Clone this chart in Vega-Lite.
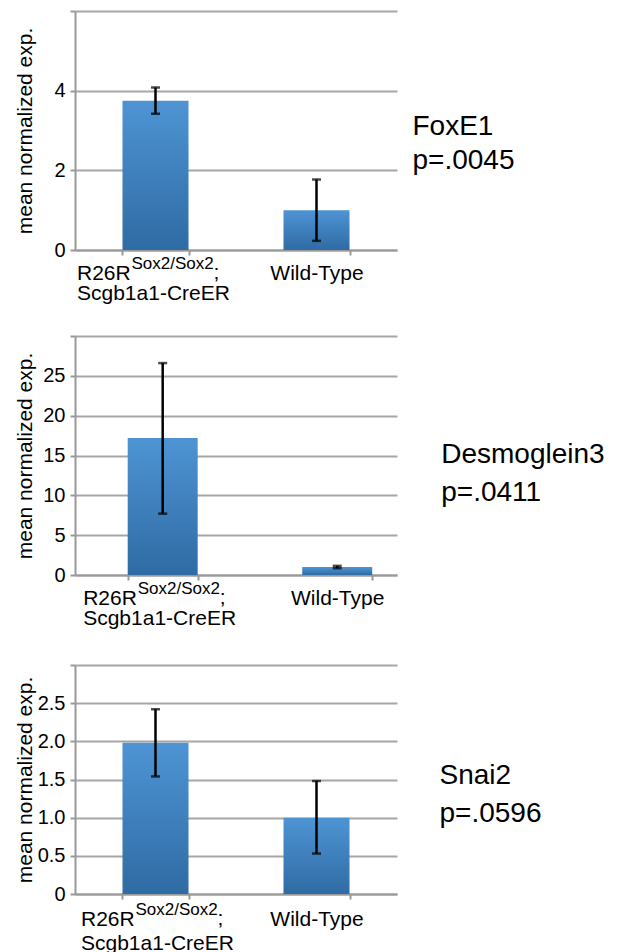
{
  "$schema": "https://vega.github.io/schema/vega-lite/v6.json",
  "padding": {"left": 13, "top": 10, "right": 0, "bottom": 0},
  "background": "white",
  "config": {
    "view": {"stroke": null},
    "font": "Liberation Sans",
    "axis": {
      "domainColor": "#999999", "domainWidth": 2,
      "gridColor": "#a6a6a6", "gridWidth": 2,
      "tickColor": "#999999", "tickWidth": 2, "tickSize": 5,
      "labelColor": "black", "titleColor": "black",
      "labelFont": "Liberation Sans", "titleFont": "Liberation Sans",
      "titleFontWeight": "normal"
    }
  },
  "datasets": {
    "bars": [
      {"panel": "FoxE1", "group": "R26R Sox2/Sox2; Scgb1a1-CreER", "mean": 3.75, "lo": 3.42, "hi": 4.08, "sup": "Sox2/Sox2"},
      {"panel": "FoxE1", "group": "Wild-Type", "mean": 1.0, "lo": 0.23, "hi": 1.77, "sup": ""},
      {"panel": "Desmoglein3", "group": "R26R Sox2/Sox2; Scgb1a1-CreER", "mean": 17.2, "lo": 7.7, "hi": 26.6, "sup": "Sox2/Sox2"},
      {"panel": "Desmoglein3", "group": "Wild-Type", "mean": 1.0, "lo": 0.85, "hi": 1.15, "sup": ""},
      {"panel": "Snai2", "group": "R26R Sox2/Sox2; Scgb1a1-CreER", "mean": 1.98, "lo": 1.54, "hi": 2.42, "sup": "Sox2/Sox2"},
      {"panel": "Snai2", "group": "Wild-Type", "mean": 1.0, "lo": 0.53, "hi": 1.48, "sup": ""}
    ],
    "notes": [
      {"panel": "FoxE1", "gene": "FoxE1", "p": "p=.0045"},
      {"panel": "Desmoglein3", "gene": "Desmoglein3", "p": "p=.0411"},
      {"panel": "Snai2", "gene": "Snai2", "p": "p=.0596"}
    ]
  },
  "spacing": 32,
  "vconcat": [
    {
      "width": 322, "height": 239,
      "data": {"name": "bars"},
      "transform": [{"filter": "datum.panel == 'FoxE1'"}],
      "encoding": {
        "x": {"field": "group", "type": "nominal", "sort": null,
          "scale": {"paddingInner": 0.59, "paddingOuter": 0.295},
          "axis": {"title": null, "labelAngle": 0, "labelFontSize": 21, "labelLineHeight": 20, "labelPadding": 7, "tickBand": "extent", "labelLimit": 400, "labelOverlap": false,
            "labelAlign": {"condition": {"test": "datum.value == 'Wild-Type'", "value": "center"}, "value": "left"},
            "labelOffset": {"condition": {"test": "datum.value == 'Wild-Type'", "value": 0}, "value": -79},
            "labelExpr": "datum.value == 'Wild-Type' ? 'Wild-Type' : datum.value == 'R26R Sox2/Sox2; Scgb1a1-CreER' ? ['R26R', 'Scgb1a1-CreER'] : ''"}}
      },
      "layer": [
        {
          "mark": {"type": "bar", "color": {"gradient": "linear", "x1": 0, "y1": 0, "x2": 0, "y2": 1, "stops": [{"offset": 0, "color": "#4e94d4"}, {"offset": 1, "color": "#2f6ba4"}]}},
          "encoding": {"y": {"field": "mean", "type": "quantitative", "scale": {"domain": [0, 6], "nice": false},
            "axis": {"title": "mean normalized exp.", "values": [0, 2, 4, 6], "labelExpr": "datum.value == 6 ? '' : datum.label", "labelFontSize": 20, "titleFontSize": 21, "titleX": -40, "labelPadding": 5}}}
        },
        {
          "mark": {"type": "errorbar", "ticks": true, "size": 9, "thickness": 2.5, "color": "black"},
          "encoding": {"y": {"field": "lo", "type": "quantitative", "scale": {"domain": [0, 6], "nice": false},
            "axis": {"title": "mean normalized exp.", "values": [0, 2, 4, 6], "labelExpr": "datum.value == 6 ? '' : datum.label", "labelFontSize": 20, "titleFontSize": 21, "titleX": -40, "labelPadding": 5}}, "y2": {"field": "hi"}}
        },
        {
          "transform": [{"filter": "datum.sup != ''"}],
          "mark": {"type": "text", "align": "left", "baseline": "alphabetic", "dx": -24, "dy": 19, "fontSize": 17},
          "encoding": {"y": {"datum": 0, "type": "quantitative", "scale": {"domain": [0, 6], "nice": false},
            "axis": {"title": "mean normalized exp.", "values": [0, 2, 4, 6], "labelExpr": "datum.value == 6 ? '' : datum.label", "labelFontSize": 20, "titleFontSize": 21, "titleX": -40, "labelPadding": 5}}, "text": {"field": "sup"}}
        },
        {
          "transform": [{"filter": "datum.sup != ''"}],
          "mark": {"type": "text", "align": "left", "baseline": "alphabetic", "dx": 58, "dy": 29, "fontSize": 21, "text": ";"},
          "encoding": {"y": {"datum": 0, "type": "quantitative", "scale": {"domain": [0, 6], "nice": false},
            "axis": {"title": "mean normalized exp.", "values": [0, 2, 4, 6], "labelExpr": "datum.value == 6 ? '' : datum.label", "labelFontSize": 20, "titleFontSize": 21, "titleX": -40, "labelPadding": 5}}}
        },
        {
          "data": {"name": "notes"},
          "transform": [{"filter": "datum.panel == 'FoxE1'"}],
          "mark": {"type": "text", "align": "left", "baseline": "alphabetic", "dx": 96, "fontSize": 28},
          "encoding": {"x": {"datum": "Wild-Type"}, "y": {"datum": 2.88, "type": "quantitative", "scale": {"domain": [0, 6], "nice": false},
            "axis": {"title": "mean normalized exp.", "values": [0, 2, 4, 6], "labelExpr": "datum.value == 6 ? '' : datum.label", "labelFontSize": 20, "titleFontSize": 21, "titleX": -40, "labelPadding": 5}}, "text": {"field": "gene"}}
        },
        {
          "data": {"name": "notes"},
          "transform": [{"filter": "datum.panel == 'FoxE1'"}],
          "mark": {"type": "text", "align": "left", "baseline": "alphabetic", "dx": 96, "fontSize": 28},
          "encoding": {"x": {"datum": "Wild-Type"}, "y": {"datum": 2.03, "type": "quantitative", "scale": {"domain": [0, 6], "nice": false},
            "axis": {"title": "mean normalized exp.", "values": [0, 2, 4, 6], "labelExpr": "datum.value == 6 ? '' : datum.label", "labelFontSize": 20, "titleFontSize": 21, "titleX": -40, "labelPadding": 5}}, "text": {"field": "p"}}
        }
      ]
    },
    {
      "spacing": 36,
      "vconcat": [
        {
          "width": 322, "height": 239,
          "data": {"name": "bars"},
          "transform": [{"filter": "datum.panel == 'Desmoglein3'"}],
          "encoding": {
            "x": {"field": "group", "type": "nominal", "sort": null,
              "scale": {"paddingInner": 0.599, "paddingOuter": 0.222, "align": 0.68},
              "axis": {"title": null, "labelAngle": 0, "labelFontSize": 21, "labelLineHeight": 20, "labelPadding": 7, "tickBand": "extent", "labelLimit": 400, "labelOverlap": false,
                "labelAlign": {"condition": {"test": "datum.value == 'Wild-Type'", "value": "center"}, "value": "left"},
                "labelOffset": {"condition": {"test": "datum.value == 'Wild-Type'", "value": 0}, "value": -80},
                "labelExpr": "datum.value == 'Wild-Type' ? 'Wild-Type' : datum.value == 'R26R Sox2/Sox2; Scgb1a1-CreER' ? ['R26R', 'Scgb1a1-CreER'] : ''"}}
          },
          "layer": [
            {
              "mark": {"type": "bar", "color": {"gradient": "linear", "x1": 0, "y1": 0, "x2": 0, "y2": 1, "stops": [{"offset": 0, "color": "#4e94d4"}, {"offset": 1, "color": "#2f6ba4"}]}},
              "encoding": {"y": {"field": "mean", "type": "quantitative", "scale": {"domain": [0, 30], "nice": false},
                "axis": {"title": "mean normalized exp.", "values": [0, 5, 10, 15, 20, 25, 30], "labelExpr": "datum.value == 30 ? '' : datum.label", "labelFontSize": 20, "titleFontSize": 21, "titleX": -40, "labelPadding": 5}}}
            },
            {
              "mark": {"type": "errorbar", "ticks": true, "size": 9, "thickness": 2.5, "color": "black"},
              "encoding": {"y": {"field": "lo", "type": "quantitative", "scale": {"domain": [0, 30], "nice": false},
                "axis": {"title": "mean normalized exp.", "values": [0, 5, 10, 15, 20, 25, 30], "labelExpr": "datum.value == 30 ? '' : datum.label", "labelFontSize": 20, "titleFontSize": 21, "titleX": -40, "labelPadding": 5}}, "y2": {"field": "hi"}}
            },
            {
              "transform": [{"filter": "datum.sup != ''"}],
              "mark": {"type": "text", "align": "left", "baseline": "alphabetic", "dx": -25, "dy": 19, "fontSize": 17},
              "encoding": {"y": {"datum": 0, "type": "quantitative", "scale": {"domain": [0, 30], "nice": false},
                "axis": {"title": "mean normalized exp.", "values": [0, 5, 10, 15, 20, 25, 30], "labelExpr": "datum.value == 30 ? '' : datum.label", "labelFontSize": 20, "titleFontSize": 21, "titleX": -40, "labelPadding": 5}}, "text": {"field": "sup"}}
            },
            {
              "transform": [{"filter": "datum.sup != ''"}],
              "mark": {"type": "text", "align": "left", "baseline": "alphabetic", "dx": 57, "dy": 29, "fontSize": 21, "text": ";"},
              "encoding": {"y": {"datum": 0, "type": "quantitative", "scale": {"domain": [0, 30], "nice": false},
                "axis": {"title": "mean normalized exp.", "values": [0, 5, 10, 15, 20, 25, 30], "labelExpr": "datum.value == 30 ? '' : datum.label", "labelFontSize": 20, "titleFontSize": 21, "titleX": -40, "labelPadding": 5}}}
            },
            {
              "data": {"name": "notes"},
              "transform": [{"filter": "datum.panel == 'Desmoglein3'"}],
              "mark": {"type": "text", "align": "left", "baseline": "alphabetic", "dx": 104, "fontSize": 28},
              "encoding": {"x": {"datum": "Wild-Type"}, "y": {"datum": 14, "type": "quantitative", "scale": {"domain": [0, 30], "nice": false},
                "axis": {"title": "mean normalized exp.", "values": [0, 5, 10, 15, 20, 25, 30], "labelExpr": "datum.value == 30 ? '' : datum.label", "labelFontSize": 20, "titleFontSize": 21, "titleX": -40, "labelPadding": 5}}, "text": {"field": "gene"}}
            },
            {
              "data": {"name": "notes"},
              "transform": [{"filter": "datum.panel == 'Desmoglein3'"}],
              "mark": {"type": "text", "align": "left", "baseline": "alphabetic", "dx": 104, "fontSize": 28},
              "encoding": {"x": {"datum": "Wild-Type"}, "y": {"datum": 9.3, "type": "quantitative", "scale": {"domain": [0, 30], "nice": false},
                "axis": {"title": "mean normalized exp.", "values": [0, 5, 10, 15, 20, 25, 30], "labelExpr": "datum.value == 30 ? '' : datum.label", "labelFontSize": 20, "titleFontSize": 21, "titleX": -40, "labelPadding": 5}}, "text": {"field": "p"}}
            }
          ]
        },
        {
          "width": 322, "height": 229,
          "data": {"name": "bars"},
          "transform": [{"filter": "datum.panel == 'Snai2'"}],
          "encoding": {
            "x": {"field": "group", "type": "nominal", "sort": null,
              "scale": {"paddingInner": 0.59, "paddingOuter": 0.295},
              "axis": {"title": null, "labelAngle": 0, "labelFontSize": 21, "labelLineHeight": 24, "labelPadding": 9, "tickBand": "extent", "labelLimit": 400, "labelOverlap": false,
                "labelAlign": {"condition": {"test": "datum.value == 'Wild-Type'", "value": "center"}, "value": "left"},
                "labelOffset": {"condition": {"test": "datum.value == 'Wild-Type'", "value": 0}, "value": -75},
                "labelExpr": "datum.value == 'Wild-Type' ? 'Wild-Type' : datum.value == 'R26R Sox2/Sox2; Scgb1a1-CreER' ? ['R26R', 'Scgb1a1-CreER'] : ''"}}
          },
          "layer": [
            {
              "mark": {"type": "bar", "color": {"gradient": "linear", "x1": 0, "y1": 0, "x2": 0, "y2": 1, "stops": [{"offset": 0, "color": "#4e94d4"}, {"offset": 1, "color": "#2f6ba4"}]}},
              "encoding": {"y": {"field": "mean", "type": "quantitative", "scale": {"domain": [0, 3], "nice": false},
                "axis": {"title": "mean normalized exp.", "values": [0, 0.5, 1, 1.5, 2, 2.5, 3], "labelExpr": "datum.value == 3 ? '' : datum.value == 0 ? '0' : format(datum.value, '.1f')", "labelFontSize": 20, "titleFontSize": 21, "titleX": -40, "labelPadding": 5}}}
            },
            {
              "mark": {"type": "errorbar", "ticks": true, "size": 9, "thickness": 2.5, "color": "black"},
              "encoding": {"y": {"field": "lo", "type": "quantitative", "scale": {"domain": [0, 3], "nice": false},
                "axis": {"title": "mean normalized exp.", "values": [0, 0.5, 1, 1.5, 2, 2.5, 3], "labelExpr": "datum.value == 3 ? '' : datum.value == 0 ? '0' : format(datum.value, '.1f')", "labelFontSize": 20, "titleFontSize": 21, "titleX": -40, "labelPadding": 5}}, "y2": {"field": "hi"}}
            },
            {
              "transform": [{"filter": "datum.sup != ''"}],
              "mark": {"type": "text", "align": "left", "baseline": "alphabetic", "dx": -20, "dy": 21, "fontSize": 17},
              "encoding": {"y": {"datum": 0, "type": "quantitative", "scale": {"domain": [0, 3], "nice": false},
                "axis": {"title": "mean normalized exp.", "values": [0, 0.5, 1, 1.5, 2, 2.5, 3], "labelExpr": "datum.value == 3 ? '' : datum.value == 0 ? '0' : format(datum.value, '.1f')", "labelFontSize": 20, "titleFontSize": 21, "titleX": -40, "labelPadding": 5}}, "text": {"field": "sup"}}
            },
            {
              "transform": [{"filter": "datum.sup != ''"}],
              "mark": {"type": "text", "align": "left", "baseline": "alphabetic", "dx": 62, "dy": 31, "fontSize": 21, "text": ";"},
              "encoding": {"y": {"datum": 0, "type": "quantitative", "scale": {"domain": [0, 3], "nice": false},
                "axis": {"title": "mean normalized exp.", "values": [0, 0.5, 1, 1.5, 2, 2.5, 3], "labelExpr": "datum.value == 3 ? '' : datum.value == 0 ? '0' : format(datum.value, '.1f')", "labelFontSize": 20, "titleFontSize": 21, "titleX": -40, "labelPadding": 5}}}
            },
            {
              "data": {"name": "notes"},
              "transform": [{"filter": "datum.panel == 'Snai2'"}],
              "mark": {"type": "text", "align": "left", "baseline": "alphabetic", "dx": 123, "fontSize": 28},
              "encoding": {"x": {"datum": "Wild-Type"}, "y": {"datum": 1.44, "type": "quantitative", "scale": {"domain": [0, 3], "nice": false},
                "axis": {"title": "mean normalized exp.", "values": [0, 0.5, 1, 1.5, 2, 2.5, 3], "labelExpr": "datum.value == 3 ? '' : datum.value == 0 ? '0' : format(datum.value, '.1f')", "labelFontSize": 20, "titleFontSize": 21, "titleX": -40, "labelPadding": 5}}, "text": {"field": "gene"}}
            },
            {
              "data": {"name": "notes"},
              "transform": [{"filter": "datum.panel == 'Snai2'"}],
              "mark": {"type": "text", "align": "left", "baseline": "alphabetic", "dx": 123, "fontSize": 28},
              "encoding": {"x": {"datum": "Wild-Type"}, "y": {"datum": 0.94, "type": "quantitative", "scale": {"domain": [0, 3], "nice": false},
                "axis": {"title": "mean normalized exp.", "values": [0, 0.5, 1, 1.5, 2, 2.5, 3], "labelExpr": "datum.value == 3 ? '' : datum.value == 0 ? '0' : format(datum.value, '.1f')", "labelFontSize": 20, "titleFontSize": 21, "titleX": -40, "labelPadding": 5}}, "text": {"field": "p"}}
            }
          ]
        }
      ]
    }
  ]
}
